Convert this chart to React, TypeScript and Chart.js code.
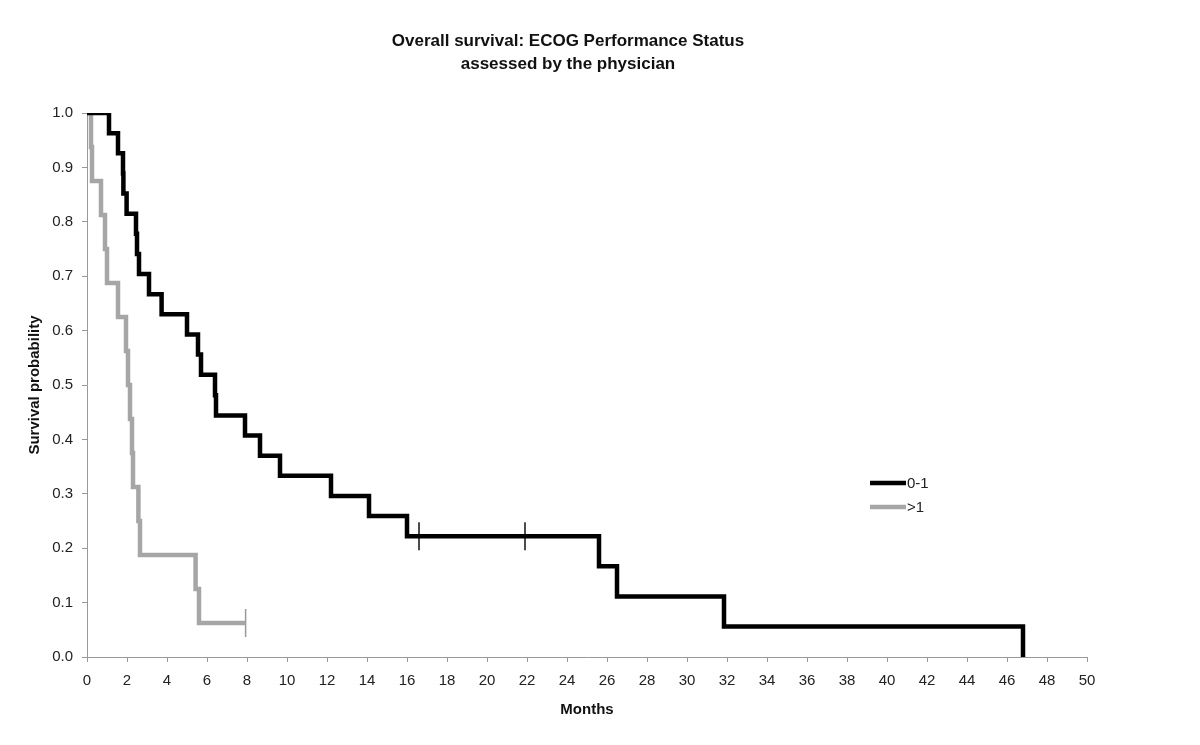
import React, { useEffect, useRef } from 'react';
import { Chart, registerables } from 'chart.js';

Chart.register(...registerables);

// ---- Text ----
const titleLines = ['Overall survival: ECOG Performance Status', 'assessed by the physician'];
const xAxisTitle = 'Months';
const yAxisTitle = 'Survival probability';
const seriesLabels = ['0-1', '>1'];

// ---- Series "0-1" (Kaplan-Meier steps: month of event, survival after event) ----
const ecog01Months = [0, 1.1, 1.55, 1.8, 1.82, 1.98, 2.45, 2.5, 2.6, 3.1, 3.73, 5.0, 5.55, 5.7, 6.4, 6.45, 7.9, 8.65, 9.65, 12.2, 14.1, 16.0, 25.6, 26.5, 31.85, 46.8];
const ecog01Survival = [1, 0.963, 0.926, 0.889, 0.852, 0.815, 0.778, 0.741, 0.704, 0.667, 0.63, 0.593, 0.556, 0.519, 0.481, 0.444, 0.407, 0.37, 0.333, 0.296, 0.259, 0.222, 0.167, 0.111, 0.056, 0];
const ecog01CensorMonths = [16.6, 21.9];
const ecog01CensorSurvival = [0.222, 0.222];

// ---- Series ">1" ----
const ecogGt1Months = [0, 0.2, 0.25, 0.7, 0.9, 1.0, 1.55, 1.95, 2.05, 2.15, 2.25, 2.3, 2.57, 2.65, 5.43, 5.6, 7.93];
const ecogGt1Survival = [1, 0.9375, 0.875, 0.8125, 0.75, 0.6875, 0.625, 0.5625, 0.5, 0.4375, 0.375, 0.3125, 0.25, 0.1875, 0.125, 0.0625, 0.0625];
const ecogGt1CensorMonths = [7.93];
const ecogGt1CensorSurvival = [0.0625];

// ---- Axes ----
const xMin = 0;
const xMax = 50;
const xStep = 2;
const yMin = 0;
const yMax = 1;
const yStep = 0.1;

const seriesColors = ['#000000', '#a6a6a6'];
const FONT = '"Liberation Sans", Arial, Helvetica, sans-serif';

const toPoints = (xs: number[], ys: number[]) => xs.map((x, i) => ({ x, y: ys[i] }));

const overlayPlugin = {
  id: 'overlay',
  afterDraw(chart: any) {
    const ctx = chart.ctx as CanvasRenderingContext2D;
    ctx.save();
    // Title
    ctx.fillStyle = '#111111';
    ctx.font = `bold 17px ${FONT}`;
    ctx.textAlign = 'center';
    ctx.textBaseline = 'middle';
    titleLines.forEach((t, i) => ctx.fillText(t, 568, 41 + i * 23));
    // Legend
    const items = chart.data.datasets.filter((d: any) => !d.isCensor);
    items.forEach((d: any, i: number) => {
      const y = 483 + i * 24;
      ctx.strokeStyle = d.borderColor;
      ctx.lineWidth = d.borderWidth;
      ctx.beginPath();
      ctx.moveTo(870, y);
      ctx.lineTo(906, y);
      ctx.stroke();
      ctx.fillStyle = '#222222';
      ctx.font = `15px ${FONT}`;
      ctx.textAlign = 'left';
      ctx.textBaseline = 'middle';
      ctx.fillText(d.label, 907, y + 1);
    });
    ctx.restore();
  },
};

export default function App() {
  const canvasRef = useRef<HTMLCanvasElement | null>(null);

  useEffect(() => {
    if (!canvasRef.current) return;
    const chart = new Chart(canvasRef.current, {
      type: 'line',
      data: {
        datasets: [
          {
            label: seriesLabels[0],
            data: toPoints(ecog01Months, ecog01Survival),
            borderColor: seriesColors[0],
            backgroundColor: seriesColors[0],
            borderWidth: 4.5,
            stepped: 'before',
            pointRadius: 0,
            fill: false,
          },
          {
            label: seriesLabels[1],
            data: toPoints(ecogGt1Months, ecogGt1Survival),
            borderColor: seriesColors[1],
            backgroundColor: seriesColors[1],
            borderWidth: 4.5,
            stepped: 'before',
            pointRadius: 0,
            fill: false,
          },
          {
            label: seriesLabels[0] + ' censored',
            isCensor: true,
            data: toPoints(ecog01CensorMonths, ecog01CensorSurvival),
            showLine: false,
            pointStyle: 'line',
            pointRotation: 90,
            pointRadius: 14,
            pointBorderWidth: 1.5,
            pointBorderColor: '#111111',
            borderColor: '#111111',
          } as any,
          {
            label: seriesLabels[1] + ' censored',
            isCensor: true,
            data: toPoints(ecogGt1CensorMonths, ecogGt1CensorSurvival),
            showLine: false,
            pointStyle: 'line',
            pointRotation: 90,
            pointRadius: 14,
            pointBorderWidth: 1.5,
            pointBorderColor: '#999999',
            borderColor: '#999999',
          } as any,
        ],
      },
      options: {
        responsive: false,
        animation: false,
        events: [],
        layout: { padding: { top: 113, right: 113, bottom: 0, left: 0 } },
        plugins: {
          legend: { display: false },
          title: { display: false },
          tooltip: { enabled: false },
        },
        scales: {
          x: {
            type: 'linear',
            min: xMin,
            max: xMax,
            ticks: {
              stepSize: xStep,
              color: '#222222',
              font: { family: FONT, size: 15 },
              padding: 10,
              maxRotation: 0,
              autoSkip: false,
            },
            grid: { drawOnChartArea: false, drawTicks: true, tickLength: 5, color: '#999999' },
            border: { display: true, color: '#999999', width: 1 },
            title: {
              display: true,
              text: xAxisTitle,
              color: '#111111',
              font: { family: FONT, size: 15, weight: 'bold' },
              padding: { top: 0, bottom: 26 },
            },
            afterFit: (scale: any) => {
              scale.height = 88;
            },
          },
          y: {
            type: 'linear',
            min: yMin,
            max: yMax,
            ticks: {
              stepSize: yStep,
              color: '#222222',
              font: { family: FONT, size: 15 },
              padding: 9,
              callback: (v: any) => Number(v).toFixed(1),
            },
            grid: { drawOnChartArea: false, drawTicks: true, tickLength: 5, color: '#999999' },
            border: { display: true, color: '#999999', width: 1 },
            title: {
              display: true,
              text: yAxisTitle,
              color: '#111111',
              font: { family: FONT, size: 15, weight: 'bold' },
              padding: { top: 26, bottom: 0 },
            },
            afterFit: (scale: any) => {
              scale.width = 87;
            },
          },
        },
      },
      plugins: [overlayPlugin],
    } as any);
    return () => chart.destroy();
  }, []);

  return (
    <div style={{ position: 'absolute', left: 0, top: 0, width: 1200, height: 745, background: '#ffffff' }}>
      <canvas ref={canvasRef} width={1200} height={745} />
    </div>
  );
}
